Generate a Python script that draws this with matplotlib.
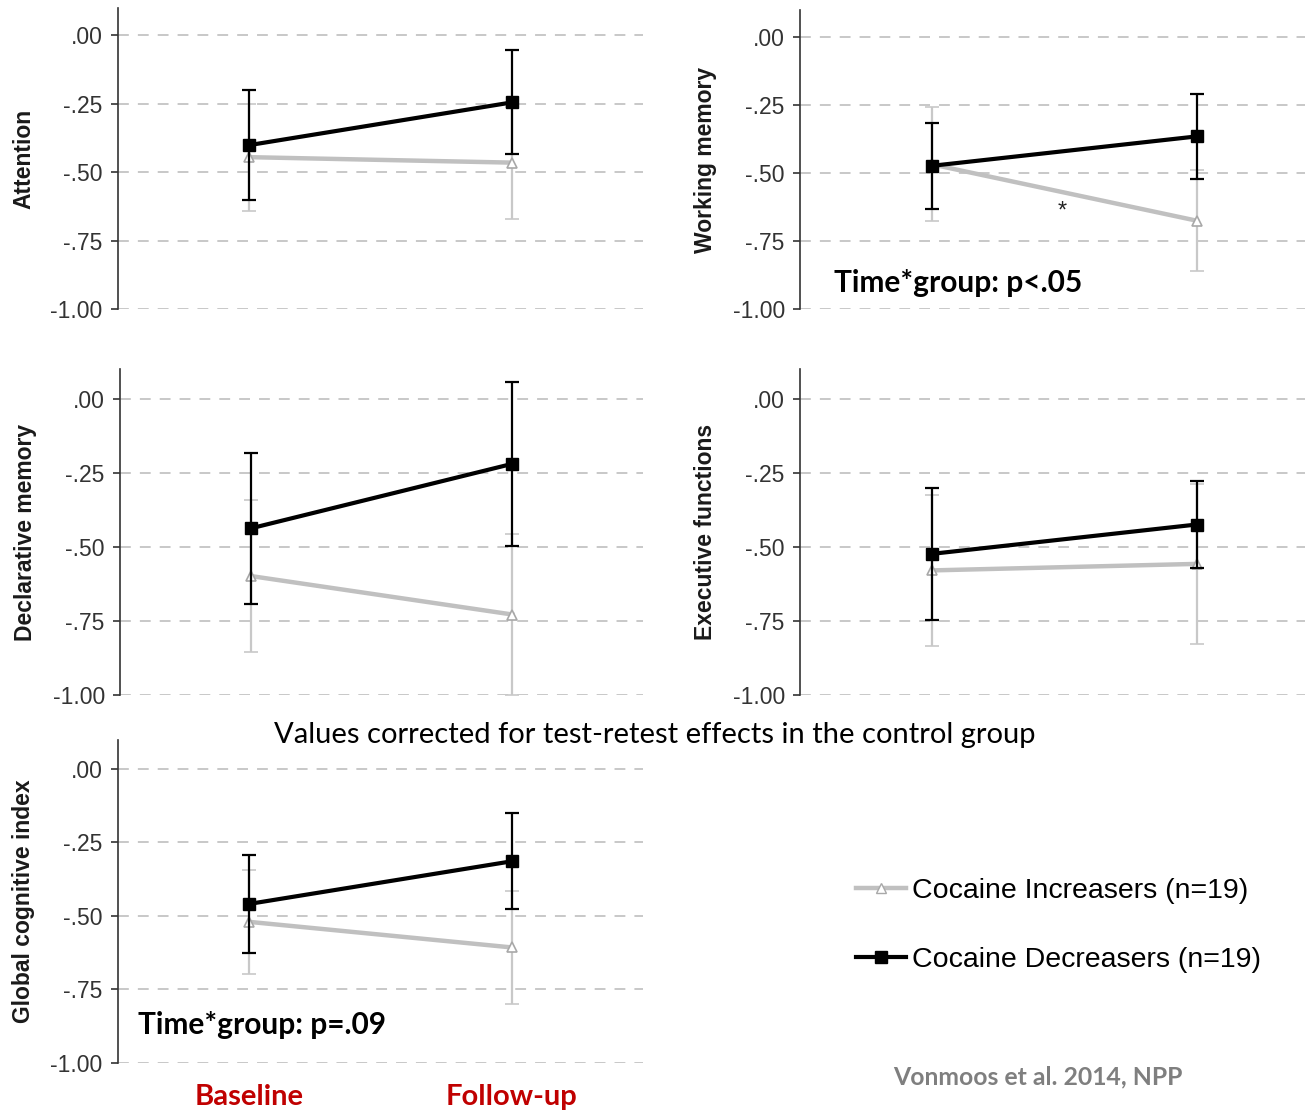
import matplotlib
matplotlib.use("Agg")
import matplotlib.pyplot as plt
from matplotlib.lines import Line2D

# Domain scores (z values)
domains = ["Attention", "Working memory", "Declarative memory",
           "Executive functions", "Global cognitive index"]
timepoints = ["Baseline", "Follow-up"]

# Cocaine Increasers (n=19): mean and error per timepoint
inc_mean = [[-0.445, -0.465], [-0.468, -0.675], [-0.598, -0.728],
            [-0.579, -0.557], [-0.520, -0.607]]
inc_err = [[0.195, 0.205], [0.210, 0.185], [0.257, 0.272],
           [0.255, 0.270], [0.178, 0.192]]

# Cocaine Decreasers (n=19)
dec_mean = [[-0.401, -0.245], [-0.473, -0.365], [-0.437, -0.219],
            [-0.523, -0.424], [-0.459, -0.314]]
dec_err = [[0.200, 0.190], [0.158, 0.156], [0.255, 0.278],
           [0.222, 0.148], [0.167, 0.163]]

yticks = [-1.0, -0.75, -0.5, -0.25, 0.0]
ytick_labels = ["-1.00", "-.75", "-.50", "-.25", ".00"]

ARIAL = "Liberation Sans"
CALIBRI = "Lato"
GRAY = "#c0c0c0"
GRAY_ERR = "#c8c8c8"

fig = plt.figure(figsize=(13.12, 11.14), dpi=100)

# Axes rectangles in figure fractions (left, bottom, width, height)
rects = [
    (0.0899, 0.7226, 0.4002, 0.2702),
    (0.6098, 0.7226, 0.3849, 0.2684),
    (0.0915, 0.3761, 0.3986, 0.2923),
    (0.6098, 0.3761, 0.3849, 0.2923),
    (0.0899, 0.0458, 0.4002, 0.2903),
]
xlims = [(0.5, 2.5), (0.5, 2.41), (0.5, 2.5), (0.5, 2.41), (0.5, 2.5)]

x = [1, 2]
axes = []
for i, name in enumerate(domains):
    ax = fig.add_axes(rects[i])
    axes.append(ax)

    # increasers (gray, open triangles) drawn first
    ax.errorbar(x, inc_mean[i], yerr=inc_err[i], color=GRAY, ecolor=GRAY_ERR,
                lw=3.2, elinewidth=1.6, capsize=5, capthick=1.6,
                marker="^", markersize=7, markerfacecolor="white",
                markeredgecolor="#a8a8a8", markeredgewidth=1.2, zorder=3)
    # decreasers (black squares)
    ax.errorbar(x, dec_mean[i], yerr=dec_err[i], color="black", ecolor="black",
                lw=3.0, elinewidth=1.6, capsize=5, capthick=1.6,
                marker="s", markersize=8.5, zorder=4)

    ax.set_xlim(*xlims[i])
    ax.set_ylim(-1.0, 0.1)
    ax.set_yticks(yticks, ytick_labels)
    for lab in ax.get_yticklabels():
        lab.set_fontfamily(ARIAL)
        lab.set_fontsize(16.5)
        lab.set_color("#333333")
    ax.tick_params(axis="y", length=5, width=1.2, color="#333333", pad=6)

    # dashed horizontal guide lines
    for yv in yticks:
        ax.axhline(yv, color="#c4c4c4", lw=1.3, ls=(0, (6, 5)), zorder=1)

    for side in ["top", "right", "bottom"]:
        ax.spines[side].set_visible(False)
    ax.spines["left"].set_color("#333333")
    ax.spines["left"].set_linewidth(1.2)

    ax.set_ylabel(name, fontfamily=ARIAL, fontweight="bold", fontsize=16.5,
                  color="#1a1a1a", labelpad=11)

    if i == 4:
        ax.set_xticks(x, timepoints)
        ax.tick_params(axis="x", length=0, pad=15)
        for lab in ax.get_xticklabels():
            lab.set_fontfamily(CALIBRI)
            lab.set_fontweight("bold")
            lab.set_fontsize(21)
            lab.set_color("#c00000")
    else:
        ax.set_xticks([])

# annotations
axes[1].text(1.49, -0.64, "*", fontsize=17, ha="center", va="center",
             fontfamily=ARIAL, color="#222222")
axes[1].text(0.628, -0.904, "Time*group: p<.05", fontfamily=CALIBRI,
             fontweight="bold", fontsize=21.5, ha="left", va="center")
axes[4].text(0.578, -0.871, "Time*group: p=.09", fontfamily=CALIBRI,
             fontweight="bold", fontsize=21.5, ha="left", va="center")

fig.text(0.4992, 0.3402, "Values corrected for test-retest effects in the control group",
         fontfamily=CALIBRI, fontsize=21, ha="center", va="center")
fig.text(0.791, 0.0332, "Vonmoos et al. 2014, NPP", fontfamily=CALIBRI,
         fontweight="bold", fontsize=17.8, color="#7f7f7f", ha="center", va="center")

# legend
handles = [
    Line2D([], [], color=GRAY, lw=3.2, marker="^", markersize=7,
           markerfacecolor="white", markeredgecolor="#a8a8a8"),
    Line2D([], [], color="black", lw=3.0, marker="s", markersize=8.5),
]
labels = ["Cocaine Increasers (n=19)", "Cocaine Decreasers (n=19)"]
fig.legend(handles, labels, loc="center left", bbox_to_anchor=(842 / 1312, 0.169),
           frameon=False, borderpad=0, handlelength=1.75, handletextpad=0.2,
           labelspacing=1.5, prop={"family": ARIAL, "size": 20.5})

plt.savefig("out.png", dpi=100)
